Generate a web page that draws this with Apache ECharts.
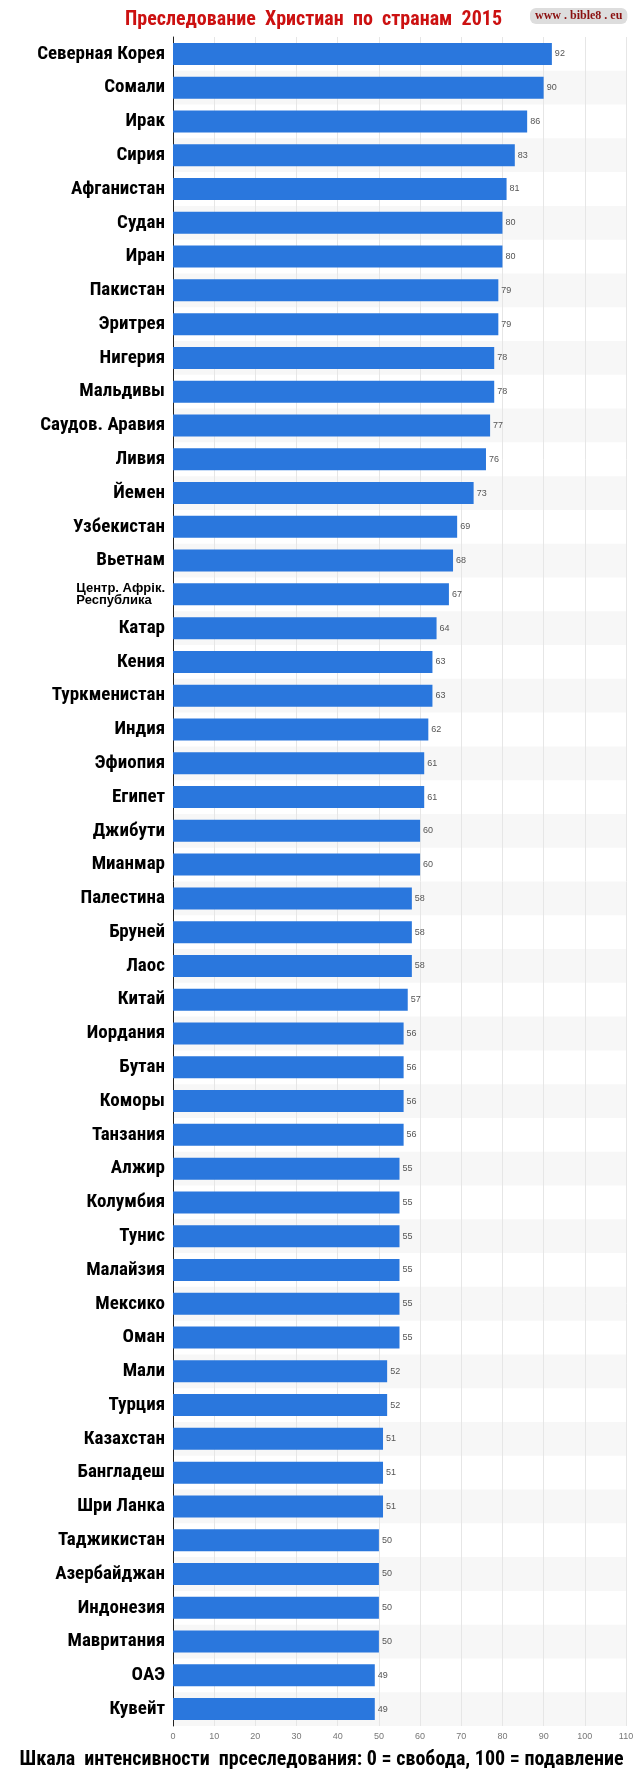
<!DOCTYPE html>
<html><head><meta charset="utf-8">
<script src="https://cdn.jsdelivr.net/npm/echarts@6/dist/echarts.min.js"></script>
<style>html,body{margin:0;padding:0;background:#fff}#c{width:643px;height:1771px}</style>
</head><body><div id="c"></div>
<script>
const countries = ["Северная Корея","Сомали","Ирак","Сирия","Афганистан","Судан","Иран","Пакистан","Эритрея","Нигерия","Мальдивы","Саудов. Аравия","Ливия","Йемен","Узбекистан","Вьетнам","Центр. Афрік.\nРеспублика","Катар","Кения","Туркменистан","Индия","Эфиопия","Египет","Джибути","Мианмар","Палестина","Бруней","Лаос","Китай","Иордания","Бутан","Коморы","Танзания","Алжир","Колумбия","Тунис","Малайзия","Мексико","Оман","Мали","Турция","Казахстан","Бангладеш","Шри Ланка","Таджикистан","Азербайджан","Индонезия","Мавритания","ОАЭ","Кувейт"];
const values = [92,90,86,83,81,80,80,79,79,78,78,77,76,73,69,68,67,64,63,63,62,61,61,60,60,58,58,58,57,56,56,56,56,55,55,55,55,55,55,52,52,51,51,51,50,50,50,50,49,49];
const xTicks = [0,10,20,30,40,50,60,70,80,90,100,110];
const F = "'Liberation Sans Narrow','Roboto Condensed','Liberation Sans',Arial,sans-serif";
const chart = echarts.init(document.getElementById('c'));
chart.setOption({
  animation:false,
  title:[
    {text:'Преследование  Христиан  по  странам  2015',left:120,top:5,textStyle:{color:'#cc1111',fontSize:20,fontWeight:'bold',fontFamily:F}},
    {text:'www . bible8 . eu',left:530,top:8,textStyle:{color:'#8a1010',fontSize:12,fontWeight:'bold',fontFamily:'Liberation Serif,serif'},backgroundColor:'#dddddd',borderRadius:6,padding:[2,5]},
    {text:'Шкала  интенсивности  прсеследования: 0 = свобода, 100 = подавление',left:'center',top:1745,textStyle:{color:'#000',fontSize:20,fontWeight:'bold',fontFamily:F}}
  ],
  grid:{left:173,right:17,top:37,bottom:45,containLabel:false},
  xAxis:{type:'value',min:0,max:110,interval:10,
    axisLabel:{color:'#777',fontSize:9,margin:6,formatter:v=>xTicks.includes(v)?String(v):''},
    axisLine:{show:false},axisTick:{show:false},
    splitLine:{show:true,lineStyle:{color:'#e6e6e6'}}},
  yAxis:{type:'category',data:countries,inverse:true,
    axisLine:{show:true,lineStyle:{color:'#222',width:1}},axisTick:{show:false},
    splitArea:{show:true,areaStyle:{color:['rgba(255,255,255,0)','#f7f7f7']}},
    axisLabel:{color:'#000',fontSize:19,fontWeight:'bold',fontFamily:F,margin:8,
      formatter:v=>v.indexOf('\n')>=0?'{s|'+v+'}':v,
      rich:{s:{fontSize:13,fontWeight:'bold',fontFamily:'Liberation Sans,Arial',lineHeight:12,color:'#000',align:'left'}}}},
  series:[{type:'bar',data:values,barWidth:22,
    itemStyle:{color:'#2a77dd'},
    label:{show:true,position:'right',color:'#555',fontSize:9,distance:3}}]
});
</script></body></html>
